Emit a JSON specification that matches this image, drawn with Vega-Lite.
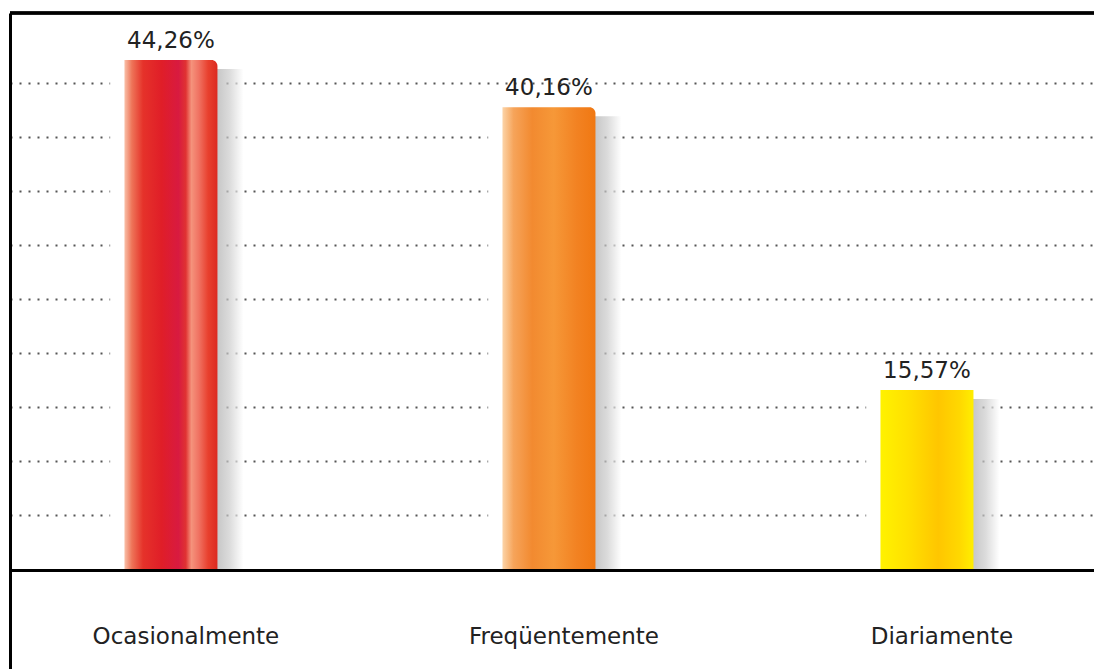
{
  "$schema": "https://vega.github.io/schema/vega-lite/v6.json",
  "width": 1084,
  "height": 656,
  "autosize": {"type": "none"},
  "padding": {"left": 10, "top": 13, "right": 0, "bottom": 0},
  "background": "white",
  "config": {
    "view": {"stroke": null},
    "locale": {"number": {"decimal": ",", "thousands": ".", "grouping": [3], "currency": ["", " €"]}},
    "text": {"font": "DejaVu Sans"}
  },
  "data": {
    "values": [
      {"category": "Ocasionalmente", "value": 0.4426},
      {"category": "Freqüentemente", "value": 0.4016},
      {"category": "Diariamente", "value": 0.1557}
    ]
  },
  "layer": [
    {
      "mark": {"type": "bar", "color": "white", "width": {"band": 1.2}, "xOffset": -5},
      "encoding": {
        "x": {
          "field": "category",
          "type": "nominal",
          "sort": ["Ocasionalmente", "Freqüentemente", "Diariamente"],
          "scale": {"type": "band", "paddingInner": 0.754, "paddingOuter": 0.332, "align": 0.456, "range": [0, 1100]},
          "axis": {
            "title": null,
            "orient": "bottom",
            "offset": -99,
            "domainColor": "black",
            "domainWidth": 3,
            "ticks": false,
            "grid": false,
            "labelAngle": 0,
            "labelLimit": 0,
            "labelFontSize": 23,
            "labelFont": "DejaVu Sans",
            "labelColor": "#222222",
            "labelPadding": 66,
            "labelOffset": 15,
            "labelBaseline": "middle",
            "zindex": 1
          }
        },
        "y": {
          "field": "value",
          "type": "quantitative",
          "scale": {"domain": [-0.087, 0.4835], "nice": false, "zero": false},
          "axis": {
            "title": null,
            "labels": false,
            "ticks": false,
            "domain": true,
            "domainColor": "black",
            "domainWidth": 3,
            "grid": true,
            "gridDash": [2, 7],
            "gridColor": "#555555",
            "gridWidth": 2,
            "values": [0.047, 0.094, 0.141, 0.188, 0.235, 0.282, 0.329, 0.376, 0.423]
          }
        },
        "y2": {"datum": 0}
      }
    },
    {
      "mark": {"type": "rule", "color": "black", "strokeWidth": 3},
      "encoding": {"y": {"datum": 0.4835}}
    },
    {
      "mark": {
        "type": "bar",
        "xOffset": 26,
        "yOffset": 9,
        "y2Offset": 0,
        "opacity": 0.7,
        "color": {
          "gradient": "linear", "x1": 0, "y1": 0, "x2": 1, "y2": 0,
          "stops": [
            {"offset": 0, "color": "#a0a0a0"},
            {"offset": 0.7, "color": "#ababab"},
            {"offset": 0.85, "color": "#cccccc"},
            {"offset": 1, "color": "#ffffff"}
          ]
        }
      },
      "encoding": {
        "x": {"field": "category", "type": "nominal", "sort": ["Ocasionalmente", "Freqüentemente", "Diariamente"]},
        "y": {"field": "value", "type": "quantitative"},
        "y2": {"datum": 0}
      }
    },
    {
      "transform": [{"filter": "datum.category === 'Ocasionalmente'"}],
      "mark": {
        "type": "bar",
        "cornerRadiusTopRight": 6,
        "color": {
          "gradient": "linear", "x1": 0, "y1": 0, "x2": 1, "y2": 0,
          "stops": [
            {"offset": 0, "color": "#f9c0a8"},
            {"offset": 0.08, "color": "#ee7458"},
            {"offset": 0.2, "color": "#e5322a"},
            {"offset": 0.4, "color": "#e01e28"},
            {"offset": 0.58, "color": "#d81a40"},
            {"offset": 0.66, "color": "#e03232"},
            {"offset": 0.72, "color": "#f5937c"},
            {"offset": 0.8, "color": "#f07262"},
            {"offset": 0.9, "color": "#e8402e"},
            {"offset": 1, "color": "#dc2a20"}
          ]
        }
      },
      "encoding": {
        "x": {"field": "category", "type": "nominal", "sort": ["Ocasionalmente", "Freqüentemente", "Diariamente"]},
        "y": {"field": "value", "type": "quantitative"},
        "y2": {"datum": 0}
      }
    },
    {
      "transform": [{"filter": "datum.category === 'Freqüentemente'"}],
      "mark": {
        "type": "bar",
        "cornerRadiusTopRight": 6,
        "color": {
          "gradient": "linear", "x1": 0, "y1": 0, "x2": 1, "y2": 0,
          "stops": [
            {"offset": 0, "color": "#fcd4a8"},
            {"offset": 0.12, "color": "#f6a45a"},
            {"offset": 0.32, "color": "#f28a30"},
            {"offset": 0.55, "color": "#f69838"},
            {"offset": 0.8, "color": "#f28222"},
            {"offset": 1, "color": "#f07812"}
          ]
        }
      },
      "encoding": {
        "x": {"field": "category", "type": "nominal", "sort": ["Ocasionalmente", "Freqüentemente", "Diariamente"]},
        "y": {"field": "value", "type": "quantitative"},
        "y2": {"datum": 0}
      }
    },
    {
      "transform": [{"filter": "datum.category === 'Diariamente'"}],
      "mark": {
        "type": "bar",
        "color": {
          "gradient": "linear", "x1": 0, "y1": 0, "x2": 1, "y2": 0,
          "stops": [
            {"offset": 0, "color": "#fff200"},
            {"offset": 0.3, "color": "#ffe000"},
            {"offset": 0.62, "color": "#ffc600"},
            {"offset": 0.85, "color": "#ffd800"},
            {"offset": 1, "color": "#ffee00"}
          ]
        }
      },
      "encoding": {
        "x": {"field": "category", "type": "nominal", "sort": ["Ocasionalmente", "Freqüentemente", "Diariamente"]},
        "y": {"field": "value", "type": "quantitative"},
        "y2": {"datum": 0}
      }
    },
    {
      "mark": {"type": "text", "fontSize": 23, "color": "#222222", "baseline": "alphabetic", "dy": -12, "font": "DejaVu Sans"},
      "encoding": {
        "x": {"field": "category", "type": "nominal", "sort": ["Ocasionalmente", "Freqüentemente", "Diariamente"]},
        "y": {"field": "value", "type": "quantitative"},
        "text": {"field": "value", "type": "quantitative", "format": ".2%"}
      }
    }
  ]
}
